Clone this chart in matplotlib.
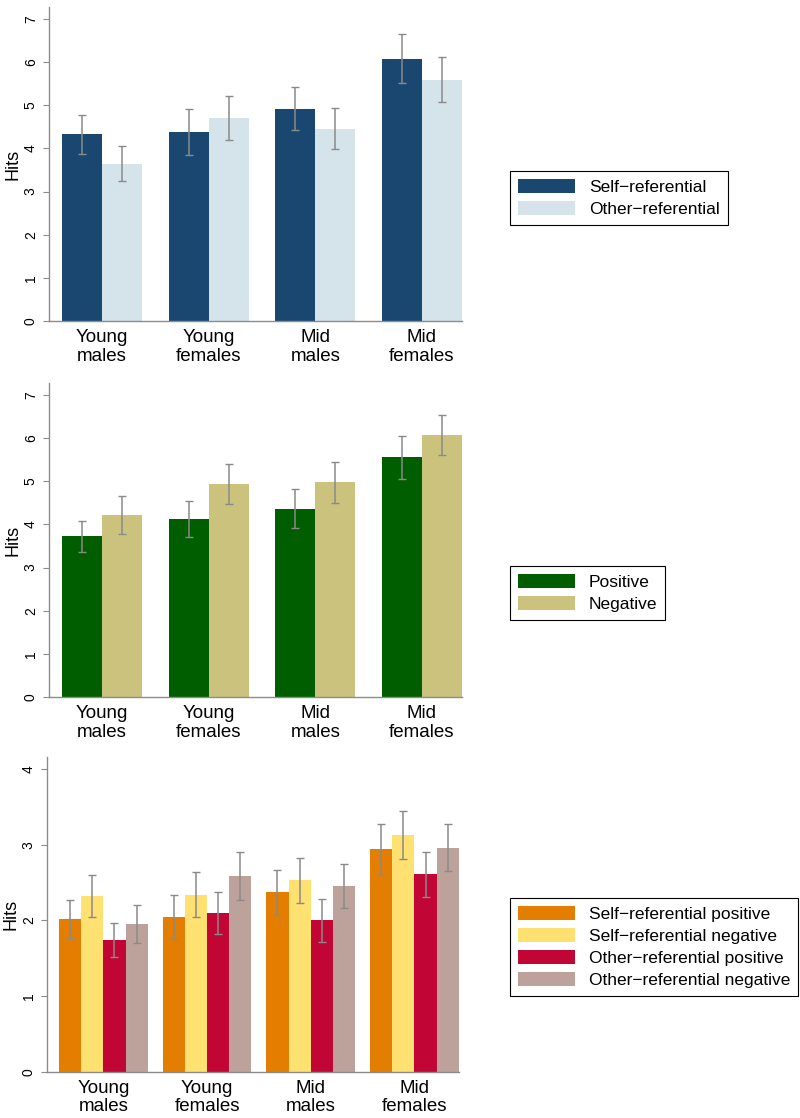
import matplotlib
matplotlib.use("Agg")
import matplotlib.pyplot as plt
import numpy as np

plt.rcParams['font.family'] = ['Liberation Sans', 'DejaVu Sans']

groups = ["Young\nmales", "Young\nfemales", "Mid\nmales", "Mid\nfemales"]

# Panel 1
p1_labels = ["Self\u2212referential", "Other\u2212referential"]
p1_self = [4.33, 4.39, 4.92, 6.08]
p1_self_err = [0.45, 0.53, 0.50, 0.57]
p1_other = [3.65, 4.71, 4.46, 5.59]
p1_other_err = [0.40, 0.51, 0.48, 0.52]
p1_colors = ["#1a476f", "#d5e4eb"]

# Panel 2
p2_labels = ["Positive", "Negative"]
p2_pos = [3.73, 4.13, 4.37, 5.56]
p2_pos_err = [0.36, 0.41, 0.45, 0.50]
p2_neg = [4.23, 4.94, 4.98, 6.08]
p2_neg_err = [0.44, 0.47, 0.48, 0.46]
p2_colors = ["#005e00", "#cbc27e"]

# Panel 3
p3_labels = ["Self\u2212referential positive", "Self\u2212referential negative",
             "Other\u2212referential positive", "Other\u2212referential negative"]
p3_srp = [2.02, 2.04, 2.37, 2.94]
p3_srp_err = [0.25, 0.29, 0.30, 0.34]
p3_srn = [2.32, 2.34, 2.53, 3.13]
p3_srn_err = [0.28, 0.30, 0.30, 0.32]
p3_orp = [1.74, 2.10, 2.00, 2.61]
p3_orp_err = [0.23, 0.28, 0.28, 0.30]
p3_orn = [1.95, 2.59, 2.45, 2.96]
p3_orn_err = [0.25, 0.32, 0.29, 0.31]
p3_colors = ["#e37e00", "#ffe172", "#c10534", "#bda29b"]

W, H = 800, 1118
fig = plt.figure(figsize=(W / 100, H / 100), dpi=100)

err_color = "#8a8a8a"
spine_color = "#8c8c8c"


def panel(rect, series, errs, colors, labels, ymax, yticks, group_w, xlim, leg_box):
    ax = fig.add_axes(rect)
    n = len(series)
    bw = group_w / n
    x = np.arange(len(groups))
    for i, (vals, e, c, lab) in enumerate(zip(series, errs, colors, labels)):
        pos = x - group_w / 2 + bw * (i + 0.5)
        ax.bar(pos, vals, width=bw, color=c, label=lab, linewidth=0, zorder=2)
        ax.errorbar(pos, vals, yerr=e, fmt='none', ecolor=err_color,
                    elinewidth=1.1, capsize=3, capthick=1.0, zorder=3)
    ax.set_xlim(*xlim)
    ax.set_ylim(0, ymax)
    ax.set_xticks(x)
    ax.set_xticklabels(groups, fontsize=13.5, linespacing=1.1)
    ax.set_yticks(yticks)
    ax.set_yticklabels([str(t) for t in yticks], fontsize=10, rotation=90, va='center')
    ax.tick_params(axis='x', length=0, pad=6)
    ax.tick_params(axis='y', length=4, width=0.8, color=spine_color, pad=4)
    for s in ['top', 'right']:
        ax.spines[s].set_visible(False)
    for s in ['left', 'bottom']:
        ax.spines[s].set_color(spine_color)
        ax.spines[s].set_linewidth(1.0)
    ax.set_ylabel("Hits", fontsize=13, labelpad=2)
    x0, y0 = leg_box
    leg = ax.legend(loc='upper left', bbox_to_anchor=(x0 / W, 1 - y0 / H),
                    bbox_transform=fig.transFigure, fontsize=12.5, frameon=True,
                    fancybox=False, edgecolor='black', framealpha=1,
                    handlelength=3.3, handleheight=0.85, handletextpad=0.8,
                    labelspacing=0.35, borderpad=0.45, borderaxespad=0)
    leg.get_frame().set_linewidth(0.8)
    return ax


panel([49 / W, 1 - 321 / H, (462 - 49) / W, (321 - 7) / H],
      [p1_self, p1_other], [p1_self_err, p1_other_err], p1_colors, p1_labels,
      7.28, list(range(0, 8)), 0.751, (-0.498, 3.376), (510, 171))

panel([49 / W, 1 - 697 / H, (462 - 49) / W, (697 - 383) / H],
      [p2_pos, p2_neg], [p2_pos_err, p2_neg_err], p2_colors, p2_labels,
      7.28, list(range(0, 8)), 0.751, (-0.498, 3.376), (510, 566))

panel([47 / W, 1 - 1071.7 / H, (459 - 47) / W, (1071.7 - 757) / H],
      [p3_srp, p3_srn, p3_orp, p3_orn],
      [p3_srp_err, p3_srn_err, p3_orp_err, p3_orn_err], p3_colors, p3_labels,
      4.16, list(range(0, 5)), 0.856, (-0.543, 3.43), (510, 898))

fig.savefig("out.png", dpi=100, facecolor='white')
